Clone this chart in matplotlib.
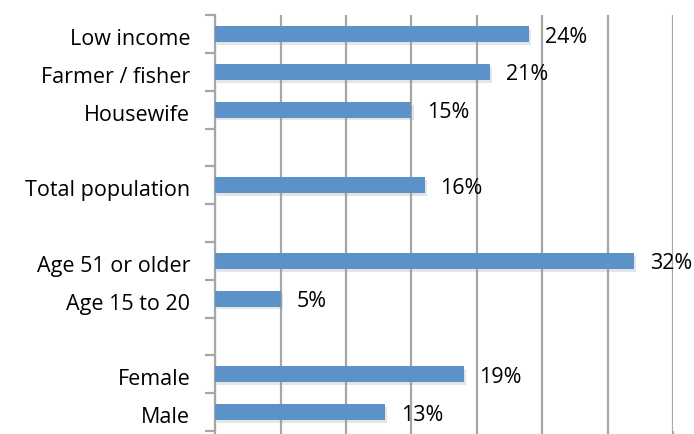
import matplotlib.pyplot as plt
import matplotlib.patheffects as pe

# Data, top to bottom; None marks an empty spacer row
categories = ['Low income', 'Farmer / fisher', 'Housewife', None,
              'Total population', None,
              'Age 51 or older', 'Age 15 to 20', None,
              'Female', 'Male']
values = [24, 21, 15, None, 16, None, 32, 5, None, 19, 13]

BAR_COLOR = '#5b93c8'
GRID_COLOR = '#a6a6a6'
FS = 15.5


def main():
    plt.rcParams['font.family'] = ['Open Sans', 'DejaVu Sans']
    fig = plt.figure(figsize=(6.94, 4.34), dpi=100)
    ax = fig.add_axes([0.31, 0.007, 0.66, 0.958])

    n = len(categories)
    rows = [i + 0.5 for i, v in enumerate(values) if v is not None]
    vals = [v for v in values if v is not None]
    labels = [c for c in categories if c is not None]

    bars = ax.barh(rows, vals, height=0.42, color=BAR_COLOR, zorder=3)
    for b in bars:
        b.set_path_effects([pe.SimplePatchShadow(offset=(1.5, -2), shadow_rgbFace='#999999', alpha=0.25),
                            pe.Normal()])

    for y, v in zip(rows, vals):
        ax.text(v + 1.2, y + 0.08, f'{v}%', va='center', ha='left', fontsize=FS, zorder=4)

    ax.set_xlim(0, 35)
    ax.set_ylim(n, 0)
    ax.set_xticks(range(0, 36, 5))
    ax.set_xticklabels([])
    ax.xaxis.grid(True, color=GRID_COLOR, linewidth=1.6, zorder=0)

    # tick marks at row boundaries, labels at row centres
    ax.set_yticks(range(n + 1))
    ax.set_yticklabels([])
    ax.set_yticks([r + 0.08 for r in rows], minor=True)
    ax.set_yticklabels(labels, minor=True, fontsize=FS)
    ax.tick_params(axis='y', which='minor', length=0, pad=18)
    ax.tick_params(axis='y', which='major', length=7, width=1.6, color=GRID_COLOR)
    ax.tick_params(axis='x', length=7, width=1.6, color=GRID_COLOR)

    for side in ['top', 'right', 'bottom']:
        ax.spines[side].set_visible(False)
    ax.spines['left'].set_color(GRID_COLOR)
    ax.spines['left'].set_linewidth(1.6)

    fig.savefig('out.png', dpi=100)


if __name__ == "__main__":
    main()
